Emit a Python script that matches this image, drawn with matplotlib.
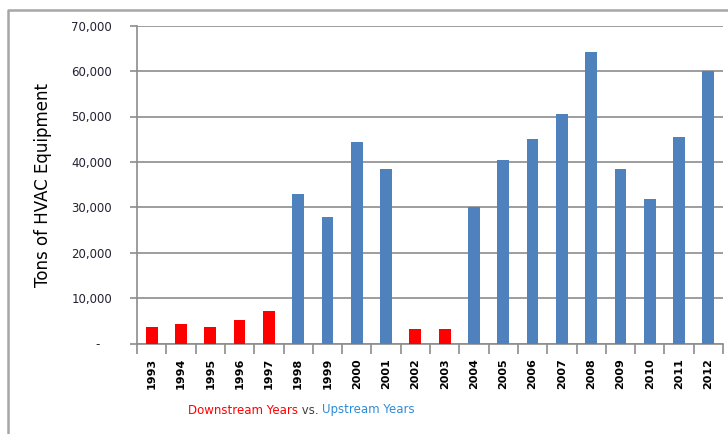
import matplotlib.pyplot as plt
import numpy as np
from matplotlib.lines import Line2D
from matplotlib.ticker import FuncFormatter

# tons of HVAC equipment per year
years = [1993, 1994, 1995, 1996, 1997, 1998, 1999, 2000, 2001, 2002,
         2003, 2004, 2005, 2006, 2007, 2008, 2009, 2010, 2011, 2012]
tons = [3700, 4300, 3700, 5200, 7200, 32900, 27900, 44400, 38400, 3200,
        3200, 30000, 40400, 45000, 50500, 64100, 38400, 31800, 45500, 60000]
stream = ["down", "down", "down", "down", "down", "up", "up", "up", "up", "down",
          "down", "up", "up", "up", "up", "up", "up", "up", "up", "up"]

RED = "#FF0000"
BLUE = "#4F81BD"
GRID = "#8C8C8C"

W, H = 728, 434
fig = plt.figure(figsize=(W / 100, H / 100), dpi=100)

# plot area in pixel terms
left, right, top, bottom = 137, 723, 25.7, 343.5
ax = fig.add_axes([left / W, 1 - bottom / H, (right - left) / W, (bottom - top) / H])

x = np.arange(len(years))
colors = [RED if s == "down" else BLUE for s in stream]
ax.bar(x, tons, width=0.4, color=colors, zorder=3)

ax.set_xlim(-0.5, len(years) - 0.5)
ax.set_ylim(0, 70000)
ax.set_yticks(range(0, 70001, 10000))
ax.yaxis.set_major_formatter(FuncFormatter(lambda v, p: "-   " if v == 0 else f"{int(v):,}"))
ax.grid(axis="y", color=GRID, lw=1.2, zorder=0)
ax.set_axisbelow(True)

for s in ["top", "right"]:
    ax.spines[s].set_visible(False)
for s in ["left", "bottom"]:
    ax.spines[s].set_color(GRID)
    ax.spines[s].set_linewidth(1.2)

ax.tick_params(axis="y", length=5, color=GRID, width=1.2, pad=13,
               labelsize=8.5, labelcolor="#222233")
ax.set_xticks(x)
ax.set_xticklabels([str(y) for y in years], rotation=90, fontsize=8, fontweight="bold")
ax.tick_params(axis="x", which="major", length=0, pad=10.5)
ax.set_xticks(np.arange(-0.5, len(years), 1), minor=True)
ax.tick_params(axis="x", which="minor", length=7, color=GRID, width=1.2)

fig.text(43 / W, 1 - (top + bottom) / 2 / H, "Tons of HVAC Equipment",
         rotation=90, ha="center", va="center", fontsize=12)

# two-colour x axis title, pieced together
renderer = fig.canvas.get_renderer()
xpos = 188 / W
for txt, col in [("Downstream Years", RED), (" vs. ", "#404040"), ("Upstream Years", "#2E8BD8")]:
    t = fig.text(xpos, 1 - 410 / H, txt, color=col, fontsize=8.5, ha="left", va="center")
    xpos += t.get_window_extent(renderer).width / W

# outer chart frame (only left and top edges are in view)
fig.add_artist(Line2D([8 / W, 8 / W, 1], [0, 1 - 10 / H, 1 - 10 / H],
                      transform=fig.transFigure, color="#A6A6A6", lw=1.8))

plt.savefig("out.png", dpi=100)
